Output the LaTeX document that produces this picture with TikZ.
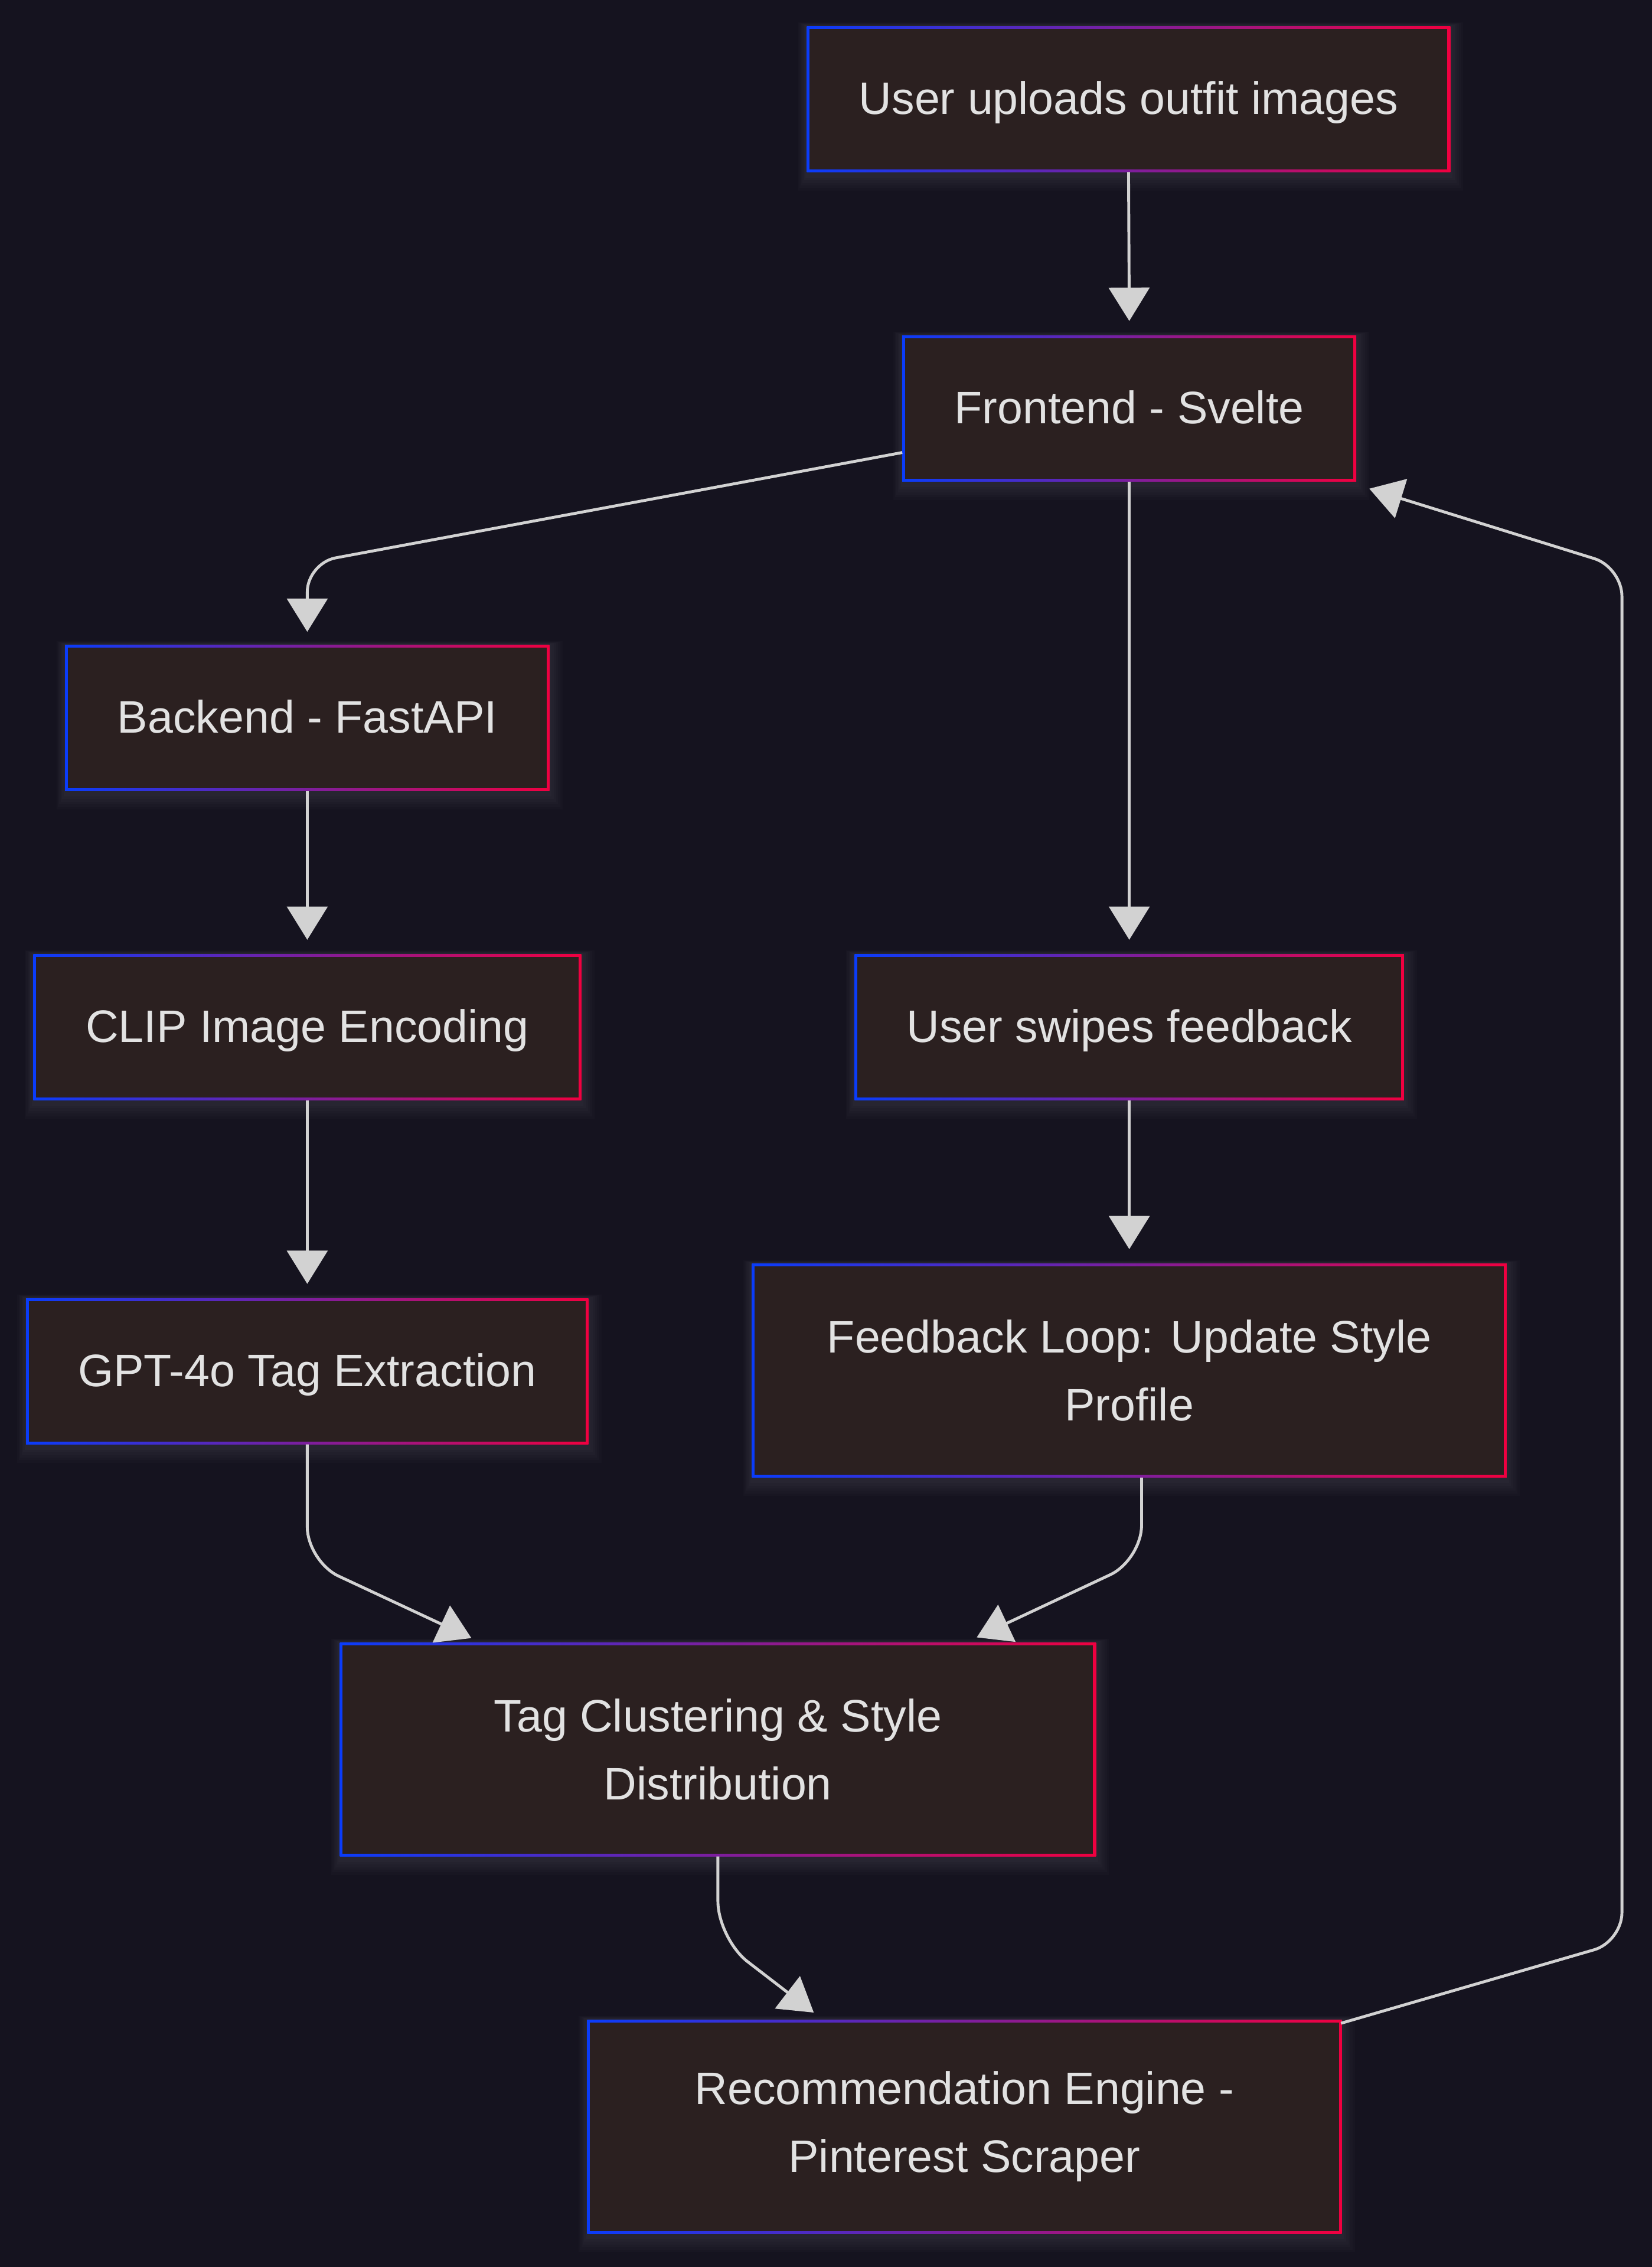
\documentclass[tikz,border=0pt]{standalone}
\usepackage{fontspec}
\setmainfont{Liberation Sans}
\usetikzlibrary{arrows.meta}
\definecolor{bgcol}{RGB}{21,19,31}
\definecolor{boxfill}{RGB}{43,32,32}
\definecolor{bblue}{RGB}{10,60,250}
\definecolor{bred}{RGB}{240,0,64}
\definecolor{txtcol}{RGB}{226,226,226}
\definecolor{edgecol}{RGB}{210,210,210}
\pgfdeclarelayer{bg}
\pgfsetlayers{bg,main}
\tikzset{
  box/.style={inner sep=0pt, outer sep=0pt, text=txtcol, align=center,
    font=\fontsize{31.5pt}{47pt}\selectfont},
  oneline/.style={box, text height=28pt, text depth=7pt, minimum height=101pt},
  twoline/.style={box, minimum height=148pt},
  edge/.style={draw=edgecol, line width=2pt,
    -{Triangle[length=23pt,width=28pt]}},
}
\begin{document}
\begin{tikzpicture}[x=1pt,y=-1pt]
\useasboundingbox (0,0) rectangle (1142.5,1568);
\begin{pgfonlayer}{bg}
\fill[bgcol] (0,0) rectangle (1142.5,1568);
\end{pgfonlayer}

\node[oneline, minimum width=445pt] (A) at (780.5,68.5) {User uploads outfit images};
\node[oneline, minimum width=314pt] (B) at (781,282.5) {Frontend - Svelte};
\node[oneline, minimum width=335pt] (C) at (212.5,496.5) {Backend - FastAPI};
\node[oneline, minimum width=379pt] (D) at (212.5,710.5) {CLIP Image Encoding};
\node[oneline, minimum width=380pt] (E) at (781,710.5) {User swipes feedback};
\node[oneline, minimum width=389pt] (F) at (212.5,948.5) {GPT-4o Tag Extraction};
\node[twoline, minimum width=522pt] (G) at (781,948) {Feedback Loop: Update Style\\Profile};
\node[twoline, minimum width=523pt] (H) at (496.5,1210) {Tag Clustering \& Style\\Distribution};
\node[twoline, minimum width=522pt] (I) at (667,1471) {Recommendation Engine -\\Pinterest Scraper};

\begin{pgfonlayer}{bg}
\foreach \n in {A,B,C,D,E,F,G,H,I}{
  \foreach \k in {1,...,6}{
    \fill[white, opacity=0.016]
      ([shift={({-1.0pt*\k},{-1.8pt*\k-2pt})}]\n.south west) rectangle
      ([shift={({1.5pt*\k},{0.4pt*\k})}]\n.north east);
  }
  \shade[left color=bblue, right color=bred] (\n.south west) rectangle (\n.north east);
  \fill[boxfill] ([shift={(2pt,2pt)}]\n.south west) rectangle ([shift={(-2pt,-2pt)}]\n.north east);
}
\end{pgfonlayer}

\draw[edge] (A.south) -- ([yshift=10pt]B.north);
\draw[edge, rounded corners=20pt] ([yshift=-30.5pt]B.west) -- (212.5,389.5) -- ([yshift=9pt]C.north);
\draw[edge] (B.south) -- ([yshift=10pt]E.north);
\draw[edge] (C.south) -- ([yshift=10pt]D.north);
\draw[edge] (D.south) -- ([yshift=10pt]F.north);
\draw[edge] (E.south) -- ([yshift=10pt]G.north);
\draw[edge, rounded corners=24pt] (F.south) -- (212.5,1080) -- ([xshift=-170.5pt,yshift=3pt]H.north);
\draw[edge, rounded corners=24pt] ([xshift=8.5pt]G.south) -- (789.5,1079) -- ([xshift=179pt,yshift=3.5pt]H.north);
\draw[edge, rounded corners=26pt] (H.south) -- (496.5,1341) -- ([xshift=-104.2pt,yshift=5pt]I.north);
\draw[edge, rounded corners=20pt] ([xshift=-0.6pt,yshift=-2.4pt]I.north east) -- (1121.7,1343) -- (1121.7,392.3) -- ([xshift=9pt,yshift=-5pt]B.south east);
\end{tikzpicture}
\end{document}
